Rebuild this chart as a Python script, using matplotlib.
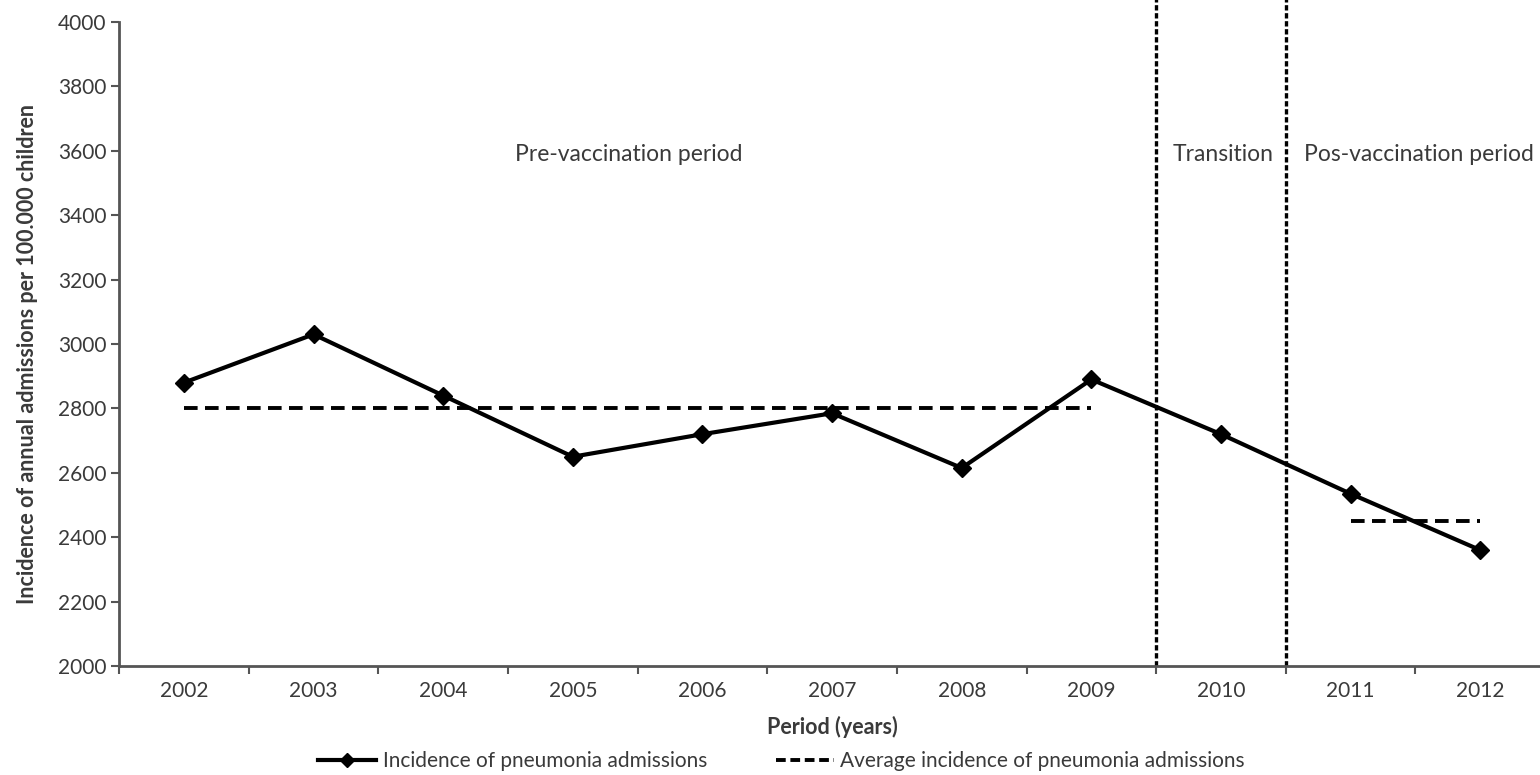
import matplotlib
matplotlib.use("Agg")
from matplotlib import pyplot as plt
from matplotlib.lines import Line2D

years = ["2002", "2003", "2004", "2005", "2006", "2007", "2008", "2009", "2010", "2011", "2012"]
incidence = [2880, 3030, 2840, 2650, 2720, 2785, 2615, 2890, 2720, 2535, 2360]
pre_avg = 2800      # 2002-2009
post_avg = 2450     # 2011-2012
period_names = ["Pre-vaccination period", "Transition", "Pos-vaccination period"]
yticks = list(range(2000, 4001, 200))

plt.rcParams['font.family'] = ['Lato', 'DejaVu Sans']
txt = '#3a3a3a'

fig = plt.figure(figsize=(15.4, 7.75), dpi=100)
ax = fig.add_axes([0.0773, 0.1406, 0.926, 0.831])

x = list(range(len(years)))
ax.plot(x, incidence, color='black', lw=3, marker='D', ms=9.5, zorder=3)
ax.plot([0, 7], [pre_avg, pre_avg], color='black', lw=2.8, ls=(0, (3.5, 1.9)), zorder=2)
ax.plot([9, 10], [post_avg, post_avg], color='black', lw=2.8, ls=(0, (3.5, 1.9)), zorder=2)

for xv in (7.5, 8.5):
    ax.axvline(xv, ymin=0, ymax=1.035, color='black', lw=2.4, ls=(0, (1.6, 0.8)), clip_on=False)

ax.text(3.43, 3590, period_names[0], ha='center', va='center', fontsize=16.5, color=txt)
ax.text(7.63, 3590, period_names[1], ha='left', va='center', fontsize=16.5, color=txt)
ax.text(8.64, 3590, period_names[2], ha='left', va='center', fontsize=16.5, color=txt)

ax.set_xlim(-0.5, 10.5)
ax.set_ylim(2000, 4000)
ax.set_yticks(yticks)
ax.set_xticks(x)
ax.set_xticklabels(years)
ax.set_xticks([i + 0.5 for i in range(-1, 11)], minor=True)
ax.tick_params(axis='x', which='major', length=0, pad=11, labelsize=15, labelcolor=txt)
ax.tick_params(axis='x', which='minor', length=6, width=1.5, color='#555555', direction='out')
ax.tick_params(axis='y', length=6, width=1.5, color='#555555', labelsize=15, labelcolor=txt, pad=3)

for s in ('top', 'right'):
    ax.spines[s].set_visible(False)
for s in ('left', 'bottom'):
    ax.spines[s].set_color('#555555')
    ax.spines[s].set_linewidth(2)

ax.set_xlabel('Period (years)', fontsize=15.5, fontweight='bold', color=txt)
ax.xaxis.set_label_coords(0.5, -0.077)
ax.set_ylabel('Incidence of annual admissions per 100.000 children', fontsize=15.5,
              fontweight='bold', color=txt)
ax.yaxis.set_label_coords(-0.0565, 0.485)

handles = [Line2D([], [], color='black', lw=3, marker='D', ms=7),
           Line2D([], [], color='black', lw=2.8, ls=(0, (2.5, 1.2)))]
fig.legend(handles, ['Incidence of pneumonia admissions', 'Average incidence of pneumonia admissions'],
           loc='center', bbox_to_anchor=(0.5075, 0.018), ncol=2, frameon=False,
           fontsize=15, labelcolor=txt, handlelength=2.8, handletextpad=0.3, columnspacing=3.3,
           borderpad=0.1)

plt.savefig('out.png', dpi=100)
